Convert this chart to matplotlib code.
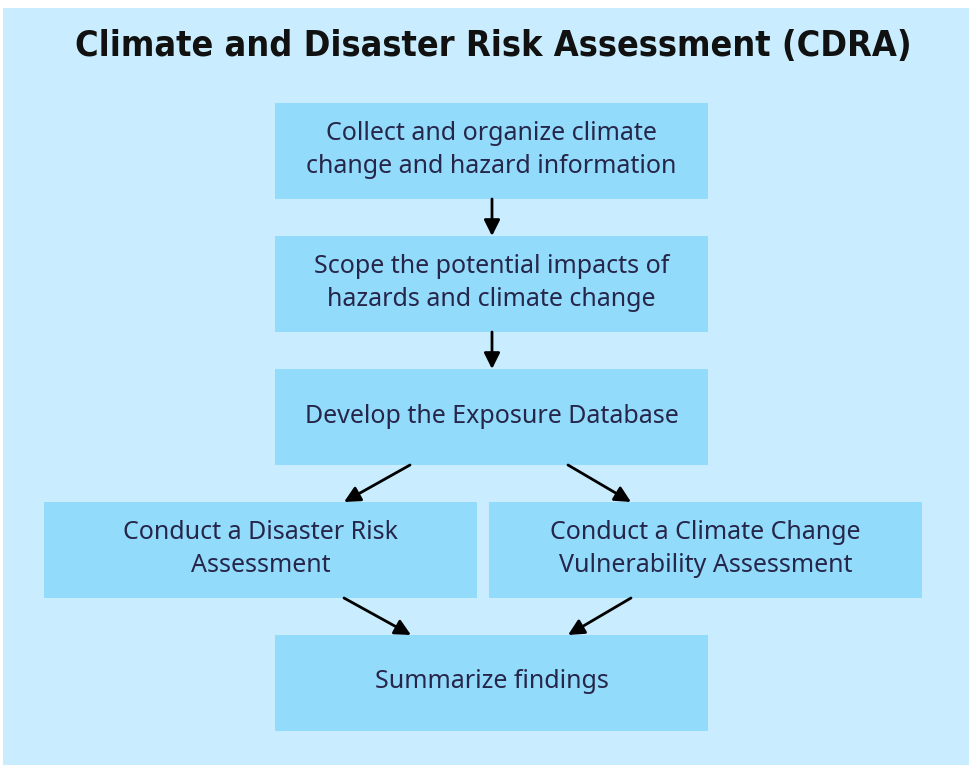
import matplotlib.pyplot as plt
from matplotlib.patches import Rectangle

title = "Climate and Disaster Risk Assessment (CDRA)"
steps = [
    "Collect and organize climate\nchange and hazard information",
    "Scope the potential impacts of\nhazards and climate change",
    "Develop the Exposure Database",
    "Conduct a Disaster Risk\nAssessment",
    "Conduct a Climate Change\nVulnerability Assessment",
    "Summarize findings",
]
# which step leads to which
links = [(0, 1), (1, 2), (2, 3), (2, 4), (3, 5), (4, 5)]

# layout in pixels: left, top, width, height
boxes = [
    (275, 103, 433, 96),
    (275, 236, 433, 96),
    (275, 369, 433, 96),
    (44, 502, 433, 96),
    (489, 502, 433, 96),
    (275, 635, 433, 96),
]
# arrow end points (start, end) in pixels
arrows = [
    ((492, 199), (492, 236)),
    ((492, 332), (492, 369)),
    ((410, 465), (344, 502)),
    ((568, 465), (631, 502)),
    ((344, 598), (411, 635)),
    ((631, 598), (568, 635)),
]

bg = "#c9edfe"
box_color = "#93dbfa"
text_color = "#26264a"

fig = plt.figure(figsize=(9.7, 7.65), dpi=100)
ax = fig.add_axes([0, 0, 1, 1])
ax.set_xlim(0, 970)
ax.set_ylim(765, 0)
ax.set_axis_off()

ax.add_patch(Rectangle((3, 8), 970, 765, color=bg, lw=0))

ax.text(493, 46, title, ha="center", va="center", fontsize=25.8,
        fontweight="bold", fontstretch="condensed",
        family=["Liberation Sans Narrow", "DejaVu Sans"], color="#111111")

for (x, y, w, h), label in zip(boxes, steps):
    ax.add_patch(Rectangle((x, y), w, h, color=box_color, lw=0))
    ax.text(x + w / 2, y + h / 2 - 1, label, ha="center", va="center",
            fontsize=18, family="Noto Sans", color=text_color,
            linespacing=1.42)

for (a, b), ((x0, y0), (x1, y1)) in zip(links, arrows):
    ax.annotate("", xy=(x1, y1), xytext=(x0, y0),
                arrowprops=dict(arrowstyle="-|>", color="black", lw=2,
                                mutation_scale=24, shrinkA=0, shrinkB=0))

fig.savefig("out.png", dpi=100, facecolor="white")
